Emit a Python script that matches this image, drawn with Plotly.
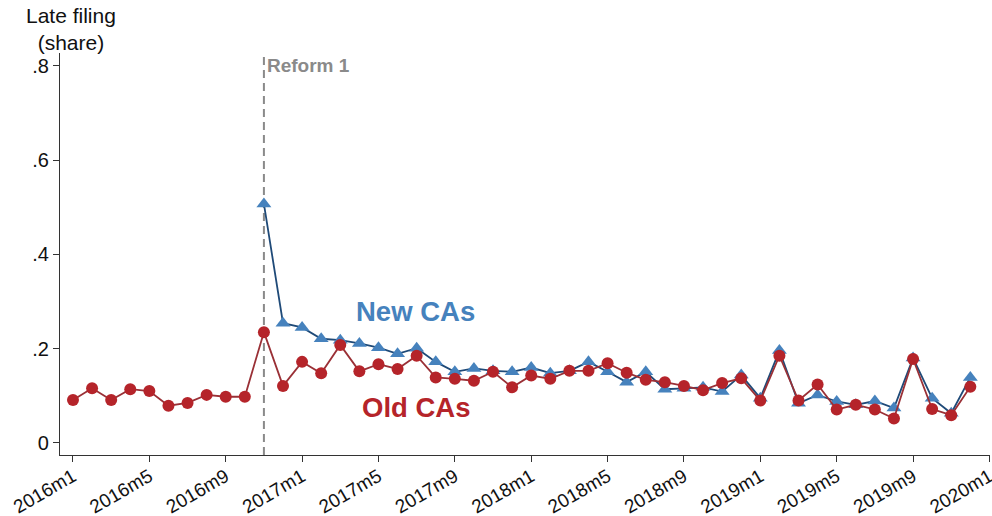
import plotly.graph_objects as go

# Monthly index: 0 = 2016m1 ... 48 = 2020m1
months = list(range(48))
month_labels = [f"{2016 + m // 12}m{m % 12 + 1}" for m in months]

# Late filing share, old CAs (2016m1 - 2019m12)
old_cas = [
    0.091, 0.116, 0.091, 0.114, 0.110, 0.079, 0.085, 0.102, 0.098, 0.098,
    0.235, 0.121, 0.172, 0.148, 0.208, 0.152, 0.167, 0.157, 0.185, 0.139,
    0.136, 0.132, 0.151, 0.118, 0.143, 0.136, 0.153, 0.153, 0.169, 0.149,
    0.134, 0.129, 0.121, 0.112, 0.127, 0.137, 0.090, 0.185, 0.090, 0.124,
    0.071, 0.081, 0.071, 0.052, 0.178, 0.072, 0.059, 0.119,
]

# Late filing share, new CAs (2016m11 - 2019m12)
new_start = 10
new_cas = [
    0.507, 0.254, 0.245, 0.221, 0.218, 0.211, 0.202, 0.189, 0.201, 0.172,
    0.151, 0.158, 0.153, 0.151, 0.160, 0.148, 0.153, 0.172, 0.151, 0.129,
    0.151, 0.114, 0.116, 0.118, 0.109, 0.144, 0.095, 0.196, 0.084, 0.102,
    0.088, 0.081, 0.089, 0.074, 0.180, 0.095, 0.063, 0.139,
]

x_tick_vals = list(range(0, 49, 4))
x_tick_text = ["2016m1", "2016m5", "2016m9", "2017m1", "2017m5", "2017m9",
               "2018m1", "2018m5", "2018m9", "2019m1", "2019m5", "2019m9",
               "2020m1"]
y_tick_vals = [0, 0.2, 0.4, 0.6, 0.8]
y_tick_text = ["0", ".2", ".4", ".6", ".8"]

reform_month = 10  # 2016m11

FONT = "Liberation Sans, Arial, Helvetica, sans-serif"
BLUE_MARK = "#4682bd"
BLUE_LINE = "#1f4a78"
RED_MARK = "#b5242a"
RED_LINE = "#9a3036"
GREY = "#8a8a8a"
INK = "#111111"

fig = go.Figure()

fig.add_trace(go.Scatter(
    x=months[new_start:], y=new_cas,
    customdata=month_labels[new_start:],
    mode="lines+markers", name="New CAs",
    line=dict(color=BLUE_LINE, width=1.8),
    marker=dict(symbol="triangle-up", size=13, color=BLUE_MARK),
    hovertemplate="%{customdata}: %{y:.3f}<extra>New CAs</extra>",
))
fig.add_trace(go.Scatter(
    x=months, y=old_cas,
    customdata=month_labels,
    mode="lines+markers", name="Old CAs",
    line=dict(color=RED_LINE, width=1.8),
    marker=dict(symbol="circle", size=12, color=RED_MARK),
    hovertemplate="%{customdata}: %{y:.3f}<extra>Old CAs</extra>",
))

# Reform marker
fig.add_shape(type="line", xref="x", yref="paper",
              x0=reform_month, x1=reform_month, y0=0, y1=0.995,
              line=dict(color=GREY, width=2, dash="8px,5px"), layer="below")
fig.add_annotation(x=reform_month, y=0.8, xref="x", yref="y",
                   text="<b>Reform 1</b>", showarrow=False,
                   xanchor="left", yanchor="middle", xshift=1,
                   font=dict(family=FONT, size=19, color=GREY))

# Series labels
fig.add_annotation(x=17.95, y=0.279, xref="x", yref="y",
                   text="<b>New CAs</b>", showarrow=False,
                   font=dict(family=FONT, size=27.5, color=BLUE_MARK))
fig.add_annotation(x=17.95, y=0.075, xref="x", yref="y",
                   text="<b>Old CAs</b>", showarrow=False,
                   font=dict(family=FONT, size=27.5, color=RED_MARK))

# Y axis title
fig.add_annotation(x=0.012, y=1.06, xref="paper", yref="paper",
                   text="Late filing<br>(share)", showarrow=False,
                   xanchor="center", yanchor="middle",
                   font=dict(family=FONT, size=21, color=INK))

fig.update_layout(
    width=992, height=516,
    margin=dict(l=60, r=2, t=53, b=61, autoexpand=False),
    paper_bgcolor="white", plot_bgcolor="white",
    showlegend=False,
    font=dict(family=FONT, size=19, color=INK),
    xaxis=dict(
        range=[-0.68, 48.03], automargin=False,
        tickmode="array", tickvals=x_tick_vals, ticktext=x_tick_text,
        tickangle=-30, ticks="outside", ticklen=6, tickwidth=1.3,
        ticklabeloverflow="allow", ticklabelstandoff=-4,
        tickcolor="#333333", showline=True, linecolor="#333333", linewidth=1.3,
        showgrid=False, zeroline=False,
        tickfont=dict(family=FONT, size=19, color=INK),
    ),
    yaxis=dict(
        range=[-0.0255, 0.827], automargin=False,
        tickmode="array", tickvals=y_tick_vals, ticktext=y_tick_text,
        ticks="outside", ticklen=6, tickwidth=1.3,
        ticklabeloverflow="allow",
        tickcolor="#333333", showline=True, linecolor="#333333", linewidth=1.3,
        showgrid=False, zeroline=False,
        tickfont=dict(family=FONT, size=20, color=INK),
    ),
)

fig.write_html("out.html")
